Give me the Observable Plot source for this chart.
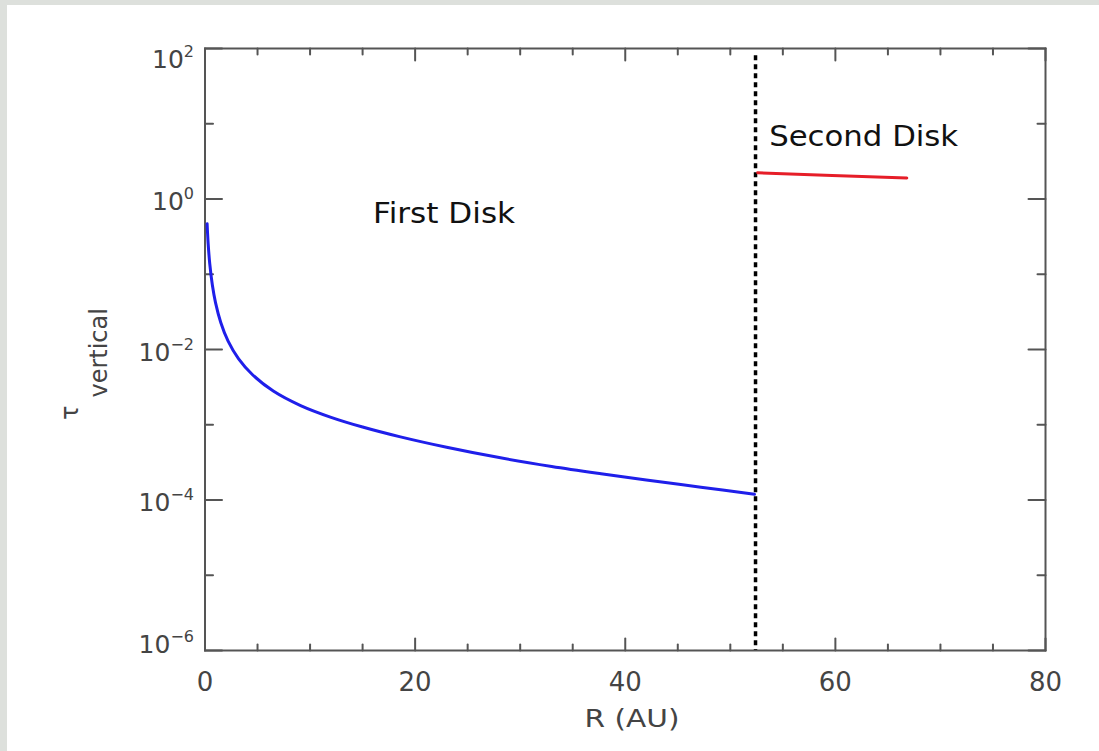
<!DOCTYPE html>
<html><head><meta charset="utf-8">
<script src="https://cdn.jsdelivr.net/npm/d3@7"></script>
<script src="https://cdn.jsdelivr.net/npm/@observablehq/plot@0.6"></script>
<style>
html,body{margin:0;padding:0;background:#fff;overflow:hidden;}
#topstrip{position:absolute;left:0;top:0;right:0;height:5px;background:#dde0dc;}
#leftstrip{position:absolute;left:0;top:0;bottom:0;width:7px;background:#dde0dc;}
#chart{position:absolute;left:7px;top:5px;}
</style></head><body><div id="topstrip"></div><div id="leftstrip"></div><div id="chart"></div>
<script>
// ---- data ----
const firstR   = [0.2, 0.3, 0.45, 0.7, 1.0, 1.5, 2.2, 3.2, 4.5, 6.5, 9.1, 12, 15, 18.6, 23, 28, 33, 37.7, 42, 47.2, 52.3];
const firstTau = [0.47, 0.256, 0.139, 0.0718, 0.042, 0.0229, 0.0129, 0.0075, 0.00465, 0.00281, 0.0018, 0.001256, 0.000933, 0.00069, 0.000502, 0.000366, 0.000279, 0.000223, 0.000184, 0.000148, 0.000119];
const secondR   = [52.6, 59.7, 66.8];
const secondTau = [2.23, 2.06, 1.9];
const boundaryR = [52.4];
const boundaryTop = [80];
const boundaryBottom = [1e-6];
const xMajorTicks = [0, 20, 40, 60, 80];
const xMinorTicks = [5, 10, 15, 25, 30, 35, 45, 50, 55, 65, 70, 75];
const yMajorTicks = [1e-6, 1e-4, 1e-2, 1, 1e2];
const yMinorTicks = [1e-5, 1e-3, 1e-1, 10];
const annotationText = ["First Disk", "Second Disk"];
const annotationR = [16, 53.7];
const annotationTau = [0.63, 6.66];

const first = firstR.map((R, i) => ({R, tau: firstTau[i]}));
const second = secondR.map((R, i) => ({R, tau: secondTau[i]}));
const boundary = boundaryR.map((R, i) => ({R, top: boundaryTop[i], bottom: boundaryBottom[i]}));
const annotations = annotationText.map((text, i) => ({text, R: annotationR[i], tau: annotationTau[i]}));

const axisColor = "#555";
const tickShape = {draw(context, l) { context.moveTo(0, 0); context.lineTo(0, -l); }};
const ticks = (data, opts) => Plot.vector(data, {...opts, shape: tickShape, anchor: "start", stroke: axisColor, strokeWidth: 2});

const chart = Plot.plot({
  width: 1092, height: 746,
  marginLeft: 197.5, marginRight: 54, marginTop: 43, marginBottom: 101,
  style: {background: "#fff", fontFamily: "DejaVu Sans", color: "#444", overflow: "visible"},
  x: {domain: [0, 80], label: null},
  y: {type: "log", domain: [1e-6, 1e2], label: null},
  marks: [
    Plot.axisX({ticks: xMajorTicks, tickSize: 0, tickPadding: 22, fontSize: 26, label: null, tickFormat: d => String(d)}),
    Plot.axisY({ticks: yMajorTicks, tickSize: 0, tickPadding: 11, fontSize: 25, label: null, dy: 3,
      tickFormat: d => `10^${Math.round(Math.log10(d))}`}),
    // inward ticks on four sides
    ticks(yMajorTicks, {x: () => 0, y: d => d, length: 17, rotate: 90}),
    ticks(yMinorTicks, {x: () => 0, y: d => d, length: 8, rotate: 90}),
    ticks(yMajorTicks, {x: () => 80, y: d => d, length: 17, rotate: -90}),
    ticks(yMinorTicks, {x: () => 80, y: d => d, length: 8, rotate: -90}),
    ticks(xMajorTicks, {x: d => d, y: () => 1e-6, length: 12, rotate: 0}),
    ticks(xMinorTicks, {x: d => d, y: () => 1e-6, length: 6, rotate: 0}),
    ticks(xMajorTicks, {x: d => d, y: () => 1e2, length: 12, rotate: 180}),
    ticks(xMinorTicks, {x: d => d, y: () => 1e2, length: 6, rotate: 180}),
    Plot.frame({stroke: axisColor, strokeWidth: 2}),
    Plot.ruleX(boundary, {x: "R", y1: "top", y2: "bottom", stroke: "#000", strokeWidth: 3.5, strokeDasharray: "5,4"}),
    Plot.line(first, {x: "R", y: "tau", stroke: "#1f1fea", strokeWidth: 3, curve: "catmull-rom"}),
    Plot.line(second, {x: "R", y: "tau", stroke: "#e61e28", strokeWidth: 3}),
    Plot.text(annotations, {x: "R", y: "tau", text: "text", textAnchor: "start", fontSize: 28, fontFamily: "DejaVu Sans", fill: "#111"})
  ]
});

const svg = d3.select(chart);
// superscript exponents on y tick labels (IDL nudges the end labels inward)
const endShift = {"2": 8, "-6": -9};
svg.selectAll('g[aria-label="y-axis tick label"] text').each(function() {
  const s = this.textContent;
  const [base, exp] = s.split("^");
  const t = d3.select(this);
  t.text(null);
  const shift = endShift[exp] || 0;
  t.append("tspan").attr("dy", shift).text(base);
  t.append("tspan").attr("dy", -11).attr("font-size", 16).text(exp.replace("-", "\u2212"));
});
// widen annotation labels to match reference
const widths = {"First Disk": 142, "Second Disk": 189};
svg.selectAll('g[aria-label="text"] text').each(function() {
  const w = widths[this.textContent];
  if (w) d3.select(this).attr("textLength", w).attr("lengthAdjust", "spacingAndGlyphs");
});
// axis titles
svg.append("text")
  .attr("x", 625).attr("y", 722)
  .attr("text-anchor", "middle")
  .attr("font-family", "DejaVu Sans").attr("font-size", 24).attr("fill", "#444")
  .attr("textLength", 95).attr("lengthAdjust", "spacingAndGlyphs")
  .text("R (AU)");
const yt = svg.append("text")
  .attr("transform", "translate(71,415) rotate(-90)")
  .attr("text-anchor", "start")
  .attr("font-family", "DejaVu Sans").attr("font-size", 24).attr("fill", "#444");
yt.append("tspan").text("τ");
yt.append("tspan").attr("dx", 8).attr("dy", 29).text("vertical");

document.getElementById("chart").appendChild(chart);
</script>
</body></html>
